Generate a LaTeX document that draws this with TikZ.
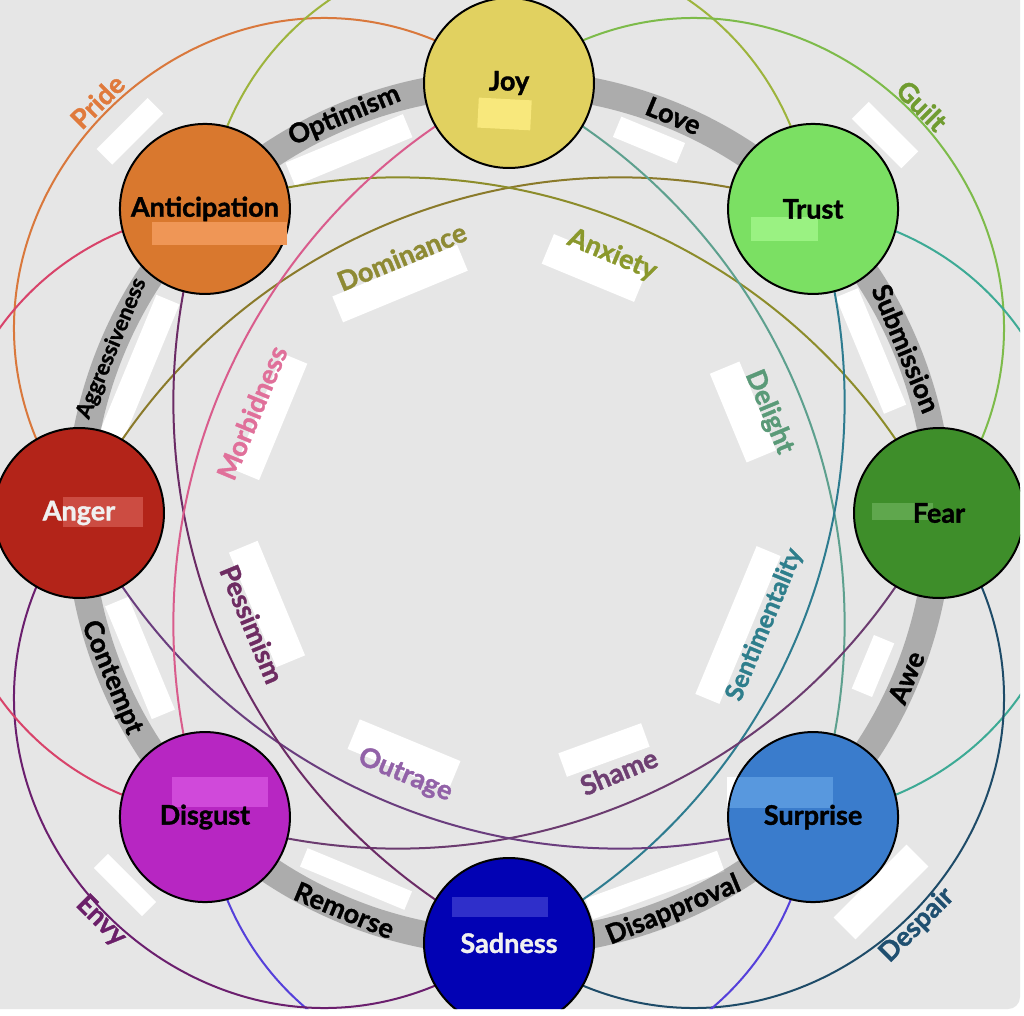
\documentclass[tikz,border=0pt]{standalone}
\usepackage{fontspec}
\setmainfont{Lato}[BoldFeatures={FakeBold=1.3}]
\pgfdeclarelayer{back}
\pgfdeclarelayer{bandl}
\pgfdeclarelayer{curvel}
\pgfdeclarelayer{front}
\pgfsetlayers{back,bandl,curvel,main,front}
\definecolor{bgc}{HTML}{E6E6E6}
\definecolor{cjoy}{HTML}{E1D160}
\definecolor{ctrust}{HTML}{7BE063}
\definecolor{cfear}{HTML}{3E8E2A}
\definecolor{csurp}{HTML}{3A7CCC}
\definecolor{csad}{HTML}{0202B4}
\definecolor{cdisg}{HTML}{B726C2}
\definecolor{canger}{HTML}{B32419}
\definecolor{cantic}{HTML}{D9782E}
\definecolor{tjoy}{HTML}{F8E87C}
\definecolor{ttrust}{HTML}{9AF282}
\definecolor{tfear}{HTML}{5FA74D}
\definecolor{tsurp}{HTML}{5898DE}
\definecolor{tsad}{HTML}{2F2FCA}
\definecolor{tdisg}{HTML}{D049DA}
\definecolor{tanger}{HTML}{CC4C42}
\definecolor{tantic}{HTML}{EF9656}
% dyad curve colours
\definecolor{kPride}{HTML}{D9783C}
\definecolor{kHope}{HTML}{9DB43C}
\definecolor{kGuilt}{HTML}{7DBB4A}
\definecolor{kCurio}{HTML}{3DAA95}
\definecolor{kDespair}{HTML}{1E4B68}
\definecolor{kUnbel}{HTML}{5540DA}
\definecolor{kEnvy}{HTML}{6B1F6E}
\definecolor{kCynic}{HTML}{D8436A}
\definecolor{kDomin}{HTML}{8A7A2A}
\definecolor{kAnxi}{HTML}{8C8C2A}
\definecolor{kDeli}{HTML}{5DA08E}
\definecolor{kSenti}{HTML}{2D7B8F}
\definecolor{kShame}{HTML}{6B3B6F}
\definecolor{kOutr}{HTML}{6A3D7E}
\definecolor{kPess}{HTML}{6B2B65}
\definecolor{kMorb}{HTML}{D95C8C}
% dyad label colours
\definecolor{lPride}{HTML}{E07A3C}
\definecolor{lGuilt}{HTML}{709C30}
\definecolor{lDespair}{HTML}{1F4F70}
\definecolor{lEnvy}{HTML}{6B1F69}
\definecolor{lDomin}{HTML}{8E8A34}
\definecolor{lAnxi}{HTML}{8A982C}
\definecolor{lDeli}{HTML}{5A9A78}
\definecolor{lSenti}{HTML}{2E7E8C}
\definecolor{lShame}{HTML}{6E3F72}
\definecolor{lOutr}{HTML}{9262A8}
\definecolor{lPess}{HTML}{6E2C62}
\definecolor{lMorb}{HTML}{E0709A}
\begin{document}
\begin{tikzpicture}[x=1pt,y=1pt,
  emo/.style={circle, draw=black, line width=2pt, minimum size=170pt, inner sep=0pt},
  emotext/.style={font=\fontsize{27}{32}\selectfont\bfseries, text=black, inner sep=0pt},
  bandtext/.style={font=\fontsize{27}{32}\selectfont\bfseries, text=black, inner sep=0pt},
  dyadtext/.style={font=\fontsize{27}{32}\selectfont\bfseries, inner sep=0pt},
  wbox/.style={fill=white, draw=none, inner sep=0pt},
  bandline/.style={line width=27pt, draw=black, draw opacity=0.25},
  dyadline/.style={line width=2pt},
  secbend/.style={bend left=82, looseness=1.495},
  terbend/.style={bend left=41, looseness=0.975},
  adjbend/.style={bend left=22.5, looseness=0.885},
  canvaspath/.style={insert path={(-509,513) -- (511,513) -- (511,-484) arc[start angle=0, end angle=-90, radius=12] -- (-509,-496) -- cycle}}
]
\useasboundingbox (-509,-502) rectangle (515,513);

% ---------- emotion circles ----------
\begin{scope}
\clip[canvaspath];
\node[emo, fill=cjoy] (joy) at (90:430) {};
\node[emo, fill=ctrust] (trust) at (45:430) {};
\node[emo, fill=cfear] (fear) at (0:430) {};
\node[emo, fill=csurp] (surprise) at (-45:430) {};
\node[emo, fill=csad] (sadness) at (-90:430) {};
\node[emo, fill=cdisg] (disgust) at (-135:430) {};
\node[emo, fill=canger] (anger) at (180:430) {};
\node[emo, fill=cantic] (anticipation) at (135:430) {};
\end{scope}

% ---------- background and white boxes ----------
\begin{pgfonlayer}{back}
\fill[white] (-509,-502) rectangle (515,513);
\fill[bgc, canvaspath];
\node[wbox, minimum width=72pt, minimum height=22pt, rotate=45] (bxPride) at (134.8:538) {};
\node[wbox, minimum width=127pt, minimum height=25pt, rotate=22.5] (bxOpt) at (-160,363) {};
\node[wbox, minimum width=146pt, minimum height=25pt, rotate=67.5] (bxAggr) at (-369,146) {};
\node[wbox, minimum width=135pt, minimum height=28pt, rotate=22.5] (bxDomin) at (115.4:254) {};
\node[wbox, minimum width=126pt, minimum height=27pt, rotate=67.5] (bxMorb) at (158:257) {};
\node[wbox, minimum width=69pt, minimum height=22pt, rotate=-22.5] (bxLove) at (140,373) {};
\node[wbox, minimum width=70pt, minimum height=24pt, rotate=-45] (bxGuilt) at (376,378) {};
\node[wbox, minimum width=100pt, minimum height=32pt, rotate=-22.5] (bxAnxi) at (85,245) {};
\node[wbox, minimum width=96pt, minimum height=32pt, rotate=-67.5] (bxDeli) at (234,101) {};
\node[wbox, minimum width=126pt, minimum height=24pt, rotate=-67.5] (bxSubm) at (362,162) {};
\node[wbox, minimum width=160pt, minimum height=26pt, rotate=67.5] (bxSenti) at (229,-112) {};
\node[wbox, minimum width=58pt, minimum height=22pt, rotate=67.5] (bxAwe) at (364,-153) {};
\node[wbox, minimum width=88pt, minimum height=25pt, rotate=20] (bxShame) at (95,-237) {};
\node[wbox, minimum width=140pt, minimum height=22pt, rotate=20] (bxDisap) at (146,-372) {};
\node[wbox, minimum width=103pt, minimum height=31pt, rotate=45] (bxDespair) at (372,-379) {};
\node[wbox, minimum width=124pt, minimum height=31pt, rotate=-67.5] (bxPess) at (-242,-91) {};
\node[wbox, minimum width=122pt, minimum height=25pt, rotate=-67.5] (bxCont) at (-369,-145) {};
\node[wbox, minimum width=109pt, minimum height=32pt, rotate=-22.5] (bxOutr) at (-105,-242) {};
\node[wbox, minimum width=113pt, minimum height=20pt, rotate=-22.5] (bxRem) at (-153,-366) {};
\node[wbox, minimum width=68pt, minimum height=20pt, rotate=-45] (bxEnvy) at (-384,-372) {};
\fill[white] (218,-264) rectangle (324,-295);
\end{pgfonlayer}

% ---------- grey ring ----------
\begin{pgfonlayer}{bandl}
\begin{scope}
\clip[canvaspath];
\draw[bandline] (joy.center) to[adjbend] (trust.center) to[adjbend] (fear.center)
  to[adjbend] (surprise.center) to[adjbend] (sadness.center) to[adjbend] (disgust.center)
  to[adjbend] (anger.center) to[adjbend] (anticipation.center) to[adjbend] (joy.center);
\end{scope}
\end{pgfonlayer}

% ---------- dyad curves ----------
\begin{pgfonlayer}{curvel}
\begin{scope}
\clip[canvaspath];
% secondary dyads
\draw[dyadline, kPride] (anger.center) to[secbend] (joy.center);
\draw[dyadline, kHope] (anticipation.center) to[secbend] (trust.center);
\draw[dyadline, kGuilt] (joy.center) to[secbend] (fear.center);
\draw[dyadline, kCurio] (trust.center) to[secbend] (surprise.center);
\draw[dyadline, kDespair] (fear.center) to[secbend] (sadness.center);
\draw[dyadline, kUnbel] (surprise.center) to[secbend] (disgust.center);
\draw[dyadline, kEnvy] (sadness.center) to[secbend] (anger.center);
\draw[dyadline, kCynic] (disgust.center) to[secbend] (anticipation.center);
% tertiary dyads
\draw[dyadline, kDomin] (anger.center) to[terbend] (trust.center);
\draw[dyadline, kAnxi] (anticipation.center) to[terbend] (fear.center);
\draw[dyadline, kDeli] (joy.center) to[terbend] (surprise.center);
\draw[dyadline, kSenti] (trust.center) to[terbend] (sadness.center);
\draw[dyadline, kShame] (fear.center) to[terbend] (disgust.center);
\draw[dyadline, kOutr] (surprise.center) to[terbend] (anger.center);
\draw[dyadline, kPess] (sadness.center) to[terbend] (anticipation.center);
\draw[dyadline, kMorb] (disgust.center) to[terbend] (joy.center);
\end{scope}
\end{pgfonlayer}

% ---------- tints and texts ----------
\begin{pgfonlayer}{front}
\fill[tjoy, rotate around={-3:(-4,399)}] (-31,414) rectangle (22,384);
\fill[ttrust] (242,296) rectangle (309,272);
\fill[tfear] (363,10) rectangle (424,-7);
\begin{scope}
\clip (surprise.center) circle[radius=84];
\fill[tsurp] (218,-264) rectangle (324,-295);
\end{scope}
\fill[tsad] (-57,-384) rectangle (39,-404);
\fill[tdisg] (-337,-264) rectangle (-241,-294);
\fill[tanger] (-446,16) rectangle (-366,-14);
\fill[tantic] (-357,291) rectangle (-222,268);

\node[emotext] (tJoy) at (joy) {Joy};
\node[emotext] (tTrust) at (trust) {Trust};
\node[emotext] (tFear) at (fear) {Fear};
\node[emotext] (tSurprise) at (surprise) {Surprise};
\node[emotext, text={white!94!black}] (tSadness) at (sadness) {Sadness};
\node[emotext] (tDisgust) at (disgust) {Disgust};
\node[emotext, text={white!94!black}] (tAnger) at (anger) {Anger};
\node[emotext] (tAntic) at (anticipation) {Anticipation};

\node[bandtext, rotate=22.5] (lOpt) at (112.5:430) {Optimism};
\node[bandtext, rotate=-22.5] (lLove) at (67.5:430) {Love};
\node[bandtext, rotate=-67.5] (lSubm) at (22.5:430) {Submission};
\node[bandtext, rotate=67.5] (lAwe) at (-22.5:430) {Awe};
\node[bandtext, rotate=22.5] (lDisap) at (-67.5:430) {Disapproval};
\node[bandtext, rotate=-22.5] (lRem) at (-112.5:430) {Remorse};
\node[bandtext, rotate=-67.5] (lCont) at (-157.5:430) {Contempt};
\node[bandtext, rotate=67.5, font=\fontsize{22}{26}\selectfont\bfseries] (lAggr) at (157.5:430) {Aggressiveness};

\node[dyadtext, text=lPride, rotate=45] (lPride) at (135:582) {Pride};
\node[dyadtext, text=lGuilt, rotate=-45] (lGuilt) at (44.6:580) {Guilt};
\node[dyadtext, text=lDespair, rotate=45] (lDespair) at (-45.3:580) {Despair};
\node[dyadtext, text=lEnvy, rotate=-45] (lEnvy) at (-135:577) {Envy};

\node[dyadtext, text=lDomin, rotate=22.5] (lDomin) at (112.7:278) {Dominance};
\node[dyadtext, text=lAnxi, rotate=-22.5] (lAnxi) at (68.2:278) {Anxiety};
\node[dyadtext, text=lDeli, rotate=-67.5] (lDeli) at (21.2:279) {Delight};
\node[dyadtext, text=lSenti, rotate=67.5, font=\fontsize{25}{30}\selectfont\bfseries] (lSenti) at (-23.6:279) {Sentimentality};
\node[dyadtext, text=lShame, rotate=22.5] (lShame) at (-67:281) {Shame};
\node[dyadtext, text=lOutr, rotate=-22.5] (lOutr) at (-111.6:282) {Outrage};
\node[dyadtext, text=lPess, rotate=-67.5] (lPess) at (-156.6:280) {Pessimism};
\node[dyadtext, text=lMorb, rotate=67.5] (lMorb) at (158.7:276) {Morbidness};
\end{pgfonlayer}
\end{tikzpicture}
\end{document}
